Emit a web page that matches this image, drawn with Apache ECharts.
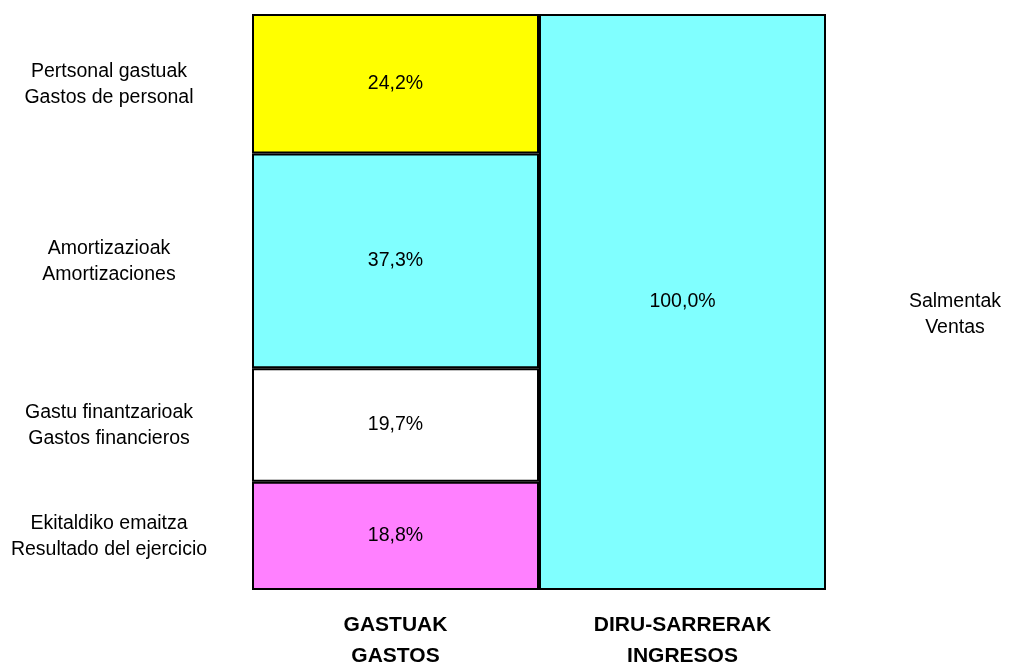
<!DOCTYPE html>
<html>
<head>
<meta charset="utf-8">
<script src="https://cdn.jsdelivr.net/npm/echarts@6/dist/echarts.min.js"></script>
<style>
  html, body { margin: 0; padding: 0; background: #fff; }
  #main { width: 1018px; height: 667px; }
</style>
</head>
<body>
<div id="main"></div>
<script>
// columns
var categories = ['GASTUAK\nGASTOS', 'DIRU-SARRERAK\nINGRESOS'];

// expenses, bottom to top (percent)
var gastosNames = [
  'Ekitaldiko emaitza\nResultado del ejercicio',
  'Gastu finantzarioak\nGastos financieros',
  'Amortizazioak\nAmortizaciones',
  'Pertsonal gastuak\nGastos de personal'
];
var gastosValues = [18.8, 19.7, 37.3, 24.2];
var gastosColors = ['#ff80ff', '#ffffff', '#80ffff', '#ffff00'];

// income
var ingresosNames = ['Salmentak\nVentas'];
var ingresosValues = [100.0];
var ingresosColors = ['#80ffff'];

var FONT = 'Liberation Sans';
var myChart = echarts.init(document.getElementById('main'));

function fmt(v) {
  return v.toFixed(1).replace('.', ',') + '%';
}

function barSeries(name, data, color) {
  return {
    name: name,
    type: 'bar',
    stack: 'total',
    barWidth: '100%',
    data: data,
    itemStyle: { color: color, borderColor: '#000', borderWidth: 2 },
    label: {
      show: true,
      position: 'inside',
      color: '#000',
      fontSize: 19.5,
      fontFamily: FONT,
      formatter: function (p) { return fmt(p.value); }
    }
  };
}

var series = [];
for (var i = 0; i < gastosValues.length; i++) {
  series.push(barSeries(gastosNames[i], [gastosValues[i], '-'], gastosColors[i]));
}
for (var j = 0; j < ingresosValues.length; j++) {
  series.push(barSeries(ingresosNames[j], ['-', ingresosValues[j]], ingresosColors[j]));
}

var option = {
  backgroundColor: '#fff',
  animation: false,
  grid: { left: 252, right: 192, top: 14, bottom: 77, outerBoundsMode: 'none', containLabel: false },
  xAxis: {
    type: 'category',
    data: categories,
    axisLine: { show: false },
    axisTick: { show: false },
    axisLabel: {
      margin: 20,
      color: '#000',
      fontSize: 21,
      fontWeight: 'bold',
      fontFamily: FONT,
      lineHeight: 31
    }
  },
  yAxis: { type: 'value', min: 0, max: 100, show: false },
  series: series
};
myChart.setOption(option);

// side names, placed through the axes
var texts = [];
var cum = 0;
for (var k = 0; k < gastosValues.length; k++) {
  var mid = cum + gastosValues[k] / 2;
  cum += gastosValues[k];
  var y = myChart.convertToPixel({ yAxisIndex: 0 }, mid);
  texts.push({
    type: 'text', x: 109, y: y + 1,
    style: {
      text: gastosNames[k], fill: '#000', fontSize: 19.5, fontFamily: FONT,
      lineHeight: 26, align: 'center', verticalAlign: 'middle'
    }
  });
}
var yIn = myChart.convertToPixel({ yAxisIndex: 0 }, ingresosValues[0] / 2);
texts.push({
  type: 'text', x: 955, y: yIn + 13,
  style: {
    text: ingresosNames[0], fill: '#000', fontSize: 19.5, fontFamily: FONT,
    lineHeight: 26, align: 'center', verticalAlign: 'middle'
  }
});
myChart.setOption({ graphic: texts });
</script>
</body>
</html>
